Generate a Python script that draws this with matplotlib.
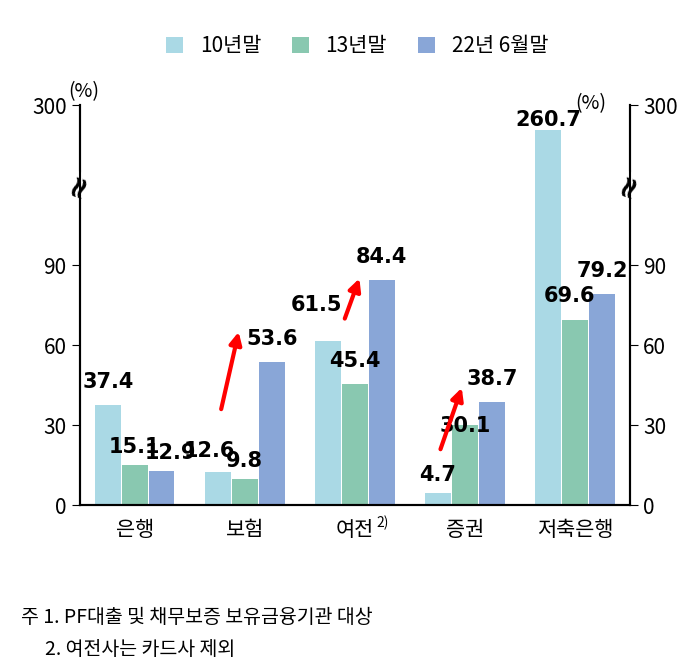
import matplotlib
matplotlib.use("Agg")
import matplotlib.pyplot as plt
import numpy as np

plt.rcParams["font.family"] = ["Noto Sans CJK KR", "Noto Sans CJK JP", "Noto Sans CJK SC",
                               "DejaVu Sans"]

categories = ["은행", "보험", "여전", "증권", "저축은행"]
series_names = ["10년말", "13년말", "22년 6월말"]
v10 = [37.4, 12.6, 61.5, 4.7, 260.7]
v13 = [15.1, 9.8, 45.4, 30.1, 69.6]
v22 = [12.9, 53.6, 84.4, 38.7, 79.2]
colors = ["#aad9e5", "#89c8b0", "#89a6d7"]


def disp(v):
    # broken axis: linear up to 100, compressed above
    return v if v <= 100 else 150 - (300 - v) * 0.239


fig = plt.figure(figsize=(6.87, 6.70), dpi=100)
ax = fig.add_axes([0.116, 0.246, 0.801, 0.597])
x = np.arange(len(categories))
w = 0.245
for i, (vals, c, name) in enumerate(zip([v10, v13, v22], colors, series_names)):
    h = [disp(v) for v in vals]
    ax.bar(x + (i - 1) * w, h, width=w * 0.95, color=c, label=name)

ax.set_xlim(-0.5, 4.5)
ax.set_ylim(0, 150)
ax.set_yticks([0, 30, 60, 90, 150], ["0", "30", "60", "90", "300"])
ax.tick_params(axis="y", labelsize=15, length=6, direction="out")
ax.tick_params(axis="x", length=0, labelsize=15, pad=10)
ax.set_xticks(x, categories)
ax.text(2.2, -0.045, "2)", transform=ax.get_xaxis_transform(), fontsize=10, va="center")
ax2 = ax.twinx()
ax2.set_ylim(0, 150)
ax2.set_yticks([0, 30, 60, 90, 150], ["0", "30", "60", "90", "300"])
ax2.tick_params(axis="y", labelsize=15, length=6)
for a in (ax, ax2):
    a.spines["top"].set_visible(False)
    for s in ("left", "right", "bottom"):
        a.spines[s].set_linewidth(1.5)
for xs in (0, 1):
    ax.text(xs, 120, "≈", transform=ax.get_yaxis_transform(), ha="center", va="center",
            fontsize=22, fontweight="bold", rotation=70, family="DejaVu Sans",
            bbox=dict(facecolor="white", edgecolor="none", pad=0))
ax.text(-0.02, 1.02, "(%)", transform=ax.transAxes, fontsize=14)
ax.text(0.9, 0.99, "(%)", transform=ax.transAxes, fontsize=14)

# value labels
offsets = {
    (0, 0): (0.0, 5), (0, 1): (0.0, 3), (0, 2): (0.08, 3),
    (1, 0): (-0.08, 4), (1, 1): (0.0, 3), (1, 2): (0.0, 5),
    (2, 0): (-0.1, 10), (2, 1): (0.0, 5), (2, 2): (0.0, 5),
    (3, 0): (0.0, 3), (3, 1): (0.0, -4), (3, 2): (0.0, 5),
    (4, 0): (0.0, 0), (4, 1): (-0.05, 5), (4, 2): (0.0, 5),
}
for i, vals in enumerate([v10, v13, v22]):
    for j, v in enumerate(vals):
        dx, dy = offsets[(j, i)]
        ax.text(j + (i - 1) * w + dx, disp(v) + dy, f"{v}", ha="center", va="bottom",
                fontsize=15, fontweight="bold", family="DejaVu Sans")

# red arrows showing increase
for j, (x0, y0, x1, y1) in {1: (0.78, 35, 0.95, 66), 2: (1.9, 69, 2.05, 86), 3: (2.77, 20, 2.98, 45)}.items():
    ax.annotate("", xy=(x1, y1), xytext=(x0, y0),
                arrowprops=dict(arrowstyle="-|>", color="red", lw=3, mutation_scale=18))

fig.legend(loc="upper center", bbox_to_anchor=(0.52, 0.975), ncol=3, frameon=False,
           fontsize=15, handlelength=0.8, handleheight=0.8, columnspacing=1.5)

fig.text(0.03, 0.07, "주 1. PF대출 및 채무보증 보유금융기관 대상", fontsize=14)
fig.text(0.065, 0.022, "2. 여전사는 카드사 제외", fontsize=14)

fig.savefig("out.png", dpi=100)
